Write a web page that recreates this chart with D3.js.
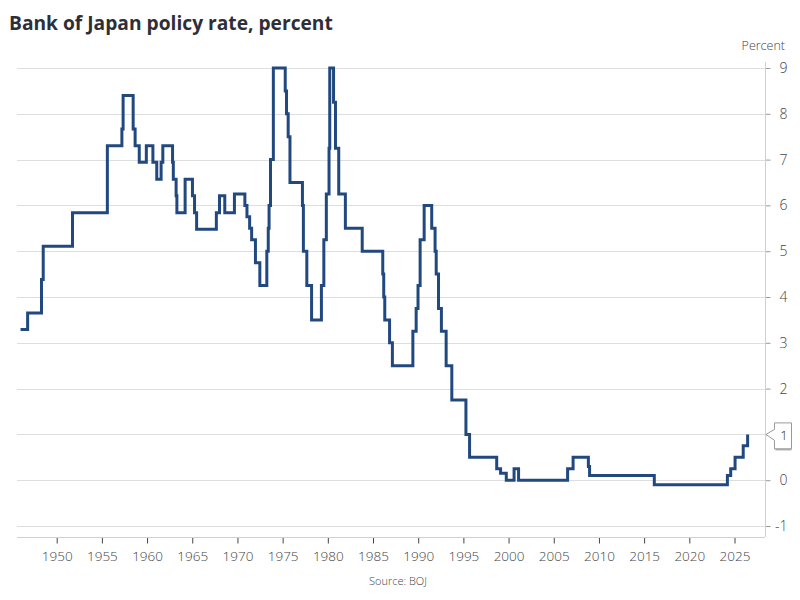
<!DOCTYPE html>
<html>
<head>
<meta charset="utf-8">
<script src="https://cdn.jsdelivr.net/npm/d3@7/dist/d3.min.js"></script>
<style>
  html, body { margin: 0; padding: 0; background: #fff; }
  svg { display: block; }
</style>
</head>
<body>
<svg id="chart" width="800" height="600"></svg>
<script>
// ---- Data (BOJ policy rate, step changes) ----
const changeDates = [
  "1946-01-01","1946-10-14","1948-04-26","1948-07-05","1951-10-01","1955-08-10",
  "1957-03-20","1957-05-08","1958-06-18","1958-09-05","1959-02-19","1959-12-02",
  "1960-08-24","1961-01-27","1961-07-22","1961-09-29","1962-10-27","1962-11-27",
  "1963-03-20","1963-04-20","1964-03-18","1965-01-09","1965-04-03","1965-06-26",
  "1967-09-01","1968-01-06","1968-08-07","1969-09-01","1970-10-28","1971-01-20",
  "1971-05-08","1971-07-28","1971-12-29","1972-06-24","1973-04-02","1973-05-30",
  "1973-07-02","1973-08-29","1973-12-22","1975-04-16","1975-06-07","1975-08-13",
  "1975-10-24","1977-03-12","1977-04-19","1977-09-05","1978-03-16","1979-04-17",
  "1979-07-24","1979-11-02","1980-02-19","1980-03-19","1980-08-20","1980-11-06",
  "1981-03-18","1981-12-11","1983-10-22","1986-01-30","1986-03-10","1986-04-21",
  "1986-11-01","1987-02-23","1989-05-31","1989-10-11","1989-12-25","1990-03-20",
  "1990-08-30","1991-07-01","1991-11-14","1991-12-30","1992-04-01","1992-07-27",
  "1993-02-04","1993-09-21","1995-04-14","1995-09-08","1998-09-09","1999-02-12",
  "1999-10-01","2000-08-11","2001-02-09","2006-07-14","2007-02-21","2008-10-31",
  "2008-12-19","2016-02-16","2024-03-19","2024-07-31","2025-01-24","2025-12-19",
  "2026-06-15"
];
const rateValues = [
  3.29,3.65,4.38,5.11,5.84,7.30,
  7.67,8.40,7.67,7.30,6.94,7.30,
  6.94,6.57,6.94,7.30,6.94,6.57,
  6.21,5.84,6.57,6.21,5.84,5.48,
  5.84,6.21,5.84,6.25,6.00,5.75,
  5.50,5.25,4.75,4.25,5.00,5.50,
  6.00,7.00,9.00,8.50,8.00,7.50,
  6.50,6.00,5.00,4.25,3.50,4.25,
  5.25,6.25,7.25,9.00,8.25,7.25,
  6.25,5.50,5.00,4.50,4.00,3.50,
  3.00,2.50,3.25,3.75,4.25,5.25,
  6.00,5.50,5.00,4.50,3.75,3.25,
  2.50,1.75,1.00,0.50,0.25,0.15,
  0.00,0.25,0.00,0.25,0.50,0.30,
  0.10,-0.10,0.10,0.25,0.50,0.75,
  1.00
];
const xTickYears = [1950,1955,1960,1965,1970,1975,1980,1985,1990,1995,2000,2005,2010,2015,2020,2025];
const yTickValues = [-1,0,1,2,3,4,5,6,7,8,9];
const lastValueLabel = "1";

// ---- Helpers ----
function toYear(s) {
  const d = new Date(s + "T00:00:00Z");
  const y = d.getUTCFullYear();
  const start = Date.UTC(y, 0, 1), end = Date.UTC(y + 1, 0, 1);
  return y + (d.getTime() - start) / (end - start);
}
const data = changeDates.map((d, i) => ({ x: toYear(d), v: rateValues[i] }));
const last = data[data.length - 1];

// ---- Layout ----
const plotLeft = 17, plotRight = 765, plotTop = 62, plotBottom = 537;
const svg = d3.select("#chart");
svg.append("rect").attr("width", 800).attr("height", 600).attr("fill", "#fff");

const x = d3.scaleLinear().domain([1950, 2025]).range([56.7, 734.5]);
const y = d3.scaleLinear().domain([-1, 9]).range([526, 68]);

const fontFamily = "'Open Sans', 'Noto Sans', sans-serif";

// Title
svg.append("text")
  .attr("x", 9).attr("y", 30)
  .attr("font-family", fontFamily)
  .attr("font-weight", 700)
  .attr("font-size", 19.2)
  .attr("fill", "#2e2e38")
  .text("Bank of Japan policy rate, percent");

// Gridlines
svg.append("g").selectAll("line").data(yTickValues).join("line")
  .attr("x1", plotLeft).attr("x2", plotRight)
  .attr("y1", d => Math.round(y(d)) + 0.5).attr("y2", d => Math.round(y(d)) + 0.5)
  .attr("stroke", "#dedede").attr("stroke-width", 1);

// Bottom axis
const xAxis = d3.axisBottom(x).tickValues(xTickYears).tickFormat(d3.format("d")).tickSize(6).tickPadding(8);
const gx = svg.append("g").attr("transform", `translate(0,${plotBottom + 0.5})`).call(xAxis);
gx.select(".domain").remove();
gx.append("line").attr("x1", plotLeft).attr("x2", plotRight).attr("y1", 0).attr("y2", 0)
  .attr("stroke", "#d0d0d0");
gx.selectAll(".tick line").attr("stroke", "#444");
gx.selectAll(".tick text")
  .attr("font-family", fontFamily).attr("font-size", 13.5).attr("font-weight", 300)
  .attr("fill", "#444");

// Right axis (the label at the last value is replaced by the callout)
const yAxis = d3.axisRight(y).tickValues(yTickValues)
  .tickFormat(d => d === last.v ? "" : (d < 0 ? "-" + Math.abs(d) : d))
  .tickSize(5).tickPadding(5);
const gy = svg.append("g").attr("transform", `translate(${plotRight + 0.5},0)`).call(yAxis);
gy.select(".domain").remove();
gy.append("line").attr("x1", 0).attr("x2", 0).attr("y1", plotTop).attr("y2", plotBottom)
  .attr("stroke", "#d0d0d0");
gy.selectAll(".tick line").attr("stroke", "#999");
gy.selectAll(".tick text")
  .attr("font-family", fontFamily).attr("font-size", 14).attr("font-weight", 300)
  .attr("fill", "#444")
  .attr("text-anchor", "end").attr("x", 22);

// Unit label
svg.append("text")
  .attr("x", 785).attr("y", 50)
  .attr("text-anchor", "end")
  .attr("font-family", fontFamily).attr("font-size", 12.5).attr("font-weight", 300)
  .attr("fill", "#444")
  .text("Percent");

// Line
const line = d3.line().x(d => x(d.x)).y(d => y(d.v)).curve(d3.curveStepAfter);
svg.append("path").datum(data)
  .attr("d", line)
  .attr("fill", "none")
  .attr("stroke", "#22497f")
  .attr("stroke-width", 3)
  .attr("stroke-linejoin", "miter");

// Callout for last value
const cy = y(last.v);
const bx0 = 774.5, bx1 = 791.5, by0 = cy - 11.5, by1 = cy + 14.5;
const tipX = plotRight + 1;
svg.append("path")
  .attr("d", `M${tipX},${cy} L${bx0},${cy - 5} L${bx0},${by0} L${bx1},${by0} L${bx1},${by1} L${bx0},${by1} L${bx0},${cy + 6} Z`)
  .attr("fill", "#fff").attr("stroke", "#999").attr("stroke-width", 1);
svg.append("line").attr("x1", bx0 + 1).attr("x2", bx1).attr("y1", by1 + 0.5).attr("y2", by1 + 0.5)
  .attr("stroke", "#aaa").attr("stroke-width", 2);
svg.append("text")
  .attr("x", (bx0 + bx1) / 2 + 1).attr("y", cy + 6)
  .attr("text-anchor", "middle")
  .attr("font-family", fontFamily).attr("font-size", 13).attr("font-weight", 300)
  .attr("fill", "#222")
  .text(lastValueLabel);

// Source
svg.append("text")
  .attr("x", 398).attr("y", 585)
  .attr("text-anchor", "middle")
  .attr("font-family", fontFamily).attr("font-size", 11).attr("font-weight", 300)
  .attr("fill", "#444")
  .text("Source: BOJ");
</script>
</body>
</html>
